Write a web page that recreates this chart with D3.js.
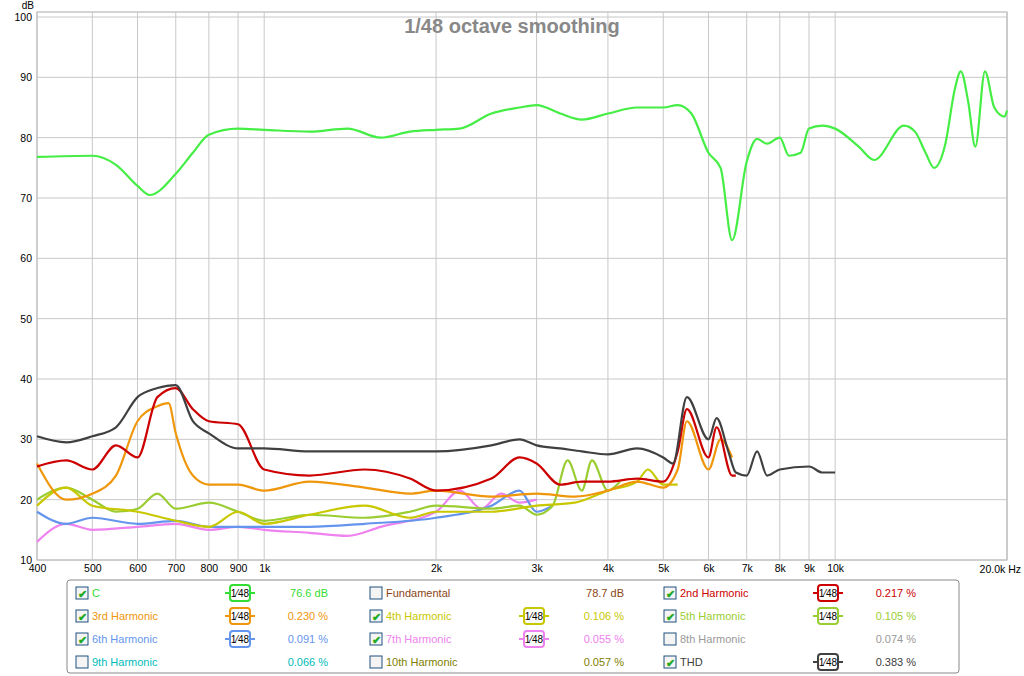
<!DOCTYPE html><html><head><meta charset="utf-8"><script src="https://cdn.jsdelivr.net/npm/d3@7"></script>
<style>body{margin:0;background:#fff}svg{font-family:"Liberation Sans",Arial,sans-serif}</style></head><body><svg id="c" width="1024" height="676"></svg>
<script>
const title="1/48 octave smoothing";
const xTicks=[400,500,600,700,800,900,1000,2000,3000,4000,5000,6000,7000,8000,9000,10000];
const xTickLabels=["400","500","600","700","800","900","1k","2k","3k","4k","5k","6k","7k","8k","9k","10k"];
const yTicks=[10,20,30,40,50,60,70,80,90,100];
const C=[[400,76.8],[500,77],[550,75.5],[600,72],[630,70.5],[700,74],[750,77.5],[800,80.5],[900,81.5],[1000,81.3],[1200,81],[1400,81.5],[1600,80],[1800,81],[2000,81.3],[2200,81.5],[2500,84],[2800,85],[3000,85.4],[3300,84],[3600,83],[4000,84],[4500,85],[5000,85],[5300,85.4],[5600,84],[6000,77.5],[6300,75],[6600,63],[7000,76],[7300,79.8],[7600,79],[8000,80],[8300,77],[8700,77.5],[9000,81.5],[9500,82],[10000,81.5],[11000,78.5],[11700,76.3],[13200,82],[13800,81],[14400,77.5],[14900,75],[15600,79],[16200,88],[16600,91],[17100,86],[17600,78.5],[18300,91],[19000,85],[19800,83.5],[20000,84.5]];
const H2=[[400,25.5],[450,26.5],[500,25],[550,29],[600,27],[650,37],[700,38.5],[750,35],[800,33],[900,32.5],[1000,25],[1200,24],[1500,25],[1800,23.5],[2000,21.5],[2500,23.5],[2800,27],[3000,26],[3300,22.5],[3600,23],[4000,23],[4500,23.5],[5000,23],[5300,28],[5500,35],[6000,27],[6200,32],[6600,24],[6700,24]];
const H3=[[400,26],[450,20],[500,21],[550,24],[600,33],[650,35.5],[680,36],[700,31],[750,24],[800,22.5],[900,22.5],[1000,21.5],[1200,23],[1500,22],[1800,21],[2000,21.5],[2500,20.5],[3000,21],[3500,20.5],[4000,21.5],[4500,23],[5000,22],[5300,25],[5500,33],[6000,25],[6300,30],[6600,27]];
const H4=[[400,19],[450,22],[500,19],[600,18],[700,16.5],[800,15.5],[900,18],[1000,16],[1200,17.5],[1500,19],[1800,17],[2000,18],[2500,18],[3000,19],[3500,19.5],[4000,21.5],[4500,23],[4700,25],[5000,22.5],[5300,22.5]];
const H5=[[400,20],[450,22],[500,20],[550,18],[600,18.5],[650,21],[700,18.5],[800,19.5],[900,18],[1000,16.5],[1200,17.5],[1500,17],[1800,18],[2000,19],[2500,18.5],[2800,19],[3000,17.5],[3200,19],[3400,26.5],[3600,21.5],[3750,26.5],[4000,21.5],[4200,23]];
const H6=[[400,18],[450,16],[500,17],[600,16],[700,16.5],[800,15.5],[1000,15.5],[1200,15.5],[1500,16],[2000,17],[2500,19],[2800,21.5],[3000,18],[3200,19]];
const H7=[[400,13],[450,16],[500,15],[600,15.5],[700,16],[800,15],[900,15.5],[1000,15],[1200,14.5],[1400,14],[1600,15.5],[2000,18],[2200,21.5],[2400,18.5],[2600,21],[2800,19.5],[3000,20]];
const THD=[[400,30.5],[450,29.5],[500,30.5],[550,32],[600,37],[650,38.5],[700,39],[750,33],[800,31],[900,28.5],[1000,28.5],[1200,28],[1500,28],[2000,28],[2500,29],[2800,30],[3000,29],[3300,28.5],[3600,28],[4000,27.5],[4500,28.5],[5000,27],[5200,26],[5500,37],[6000,30],[6200,33.5],[6500,28],[6700,24.5],[7000,24],[7300,28],[7600,24],[8000,25],[9000,25.5],[9500,24.5],[10000,24.5]];
const series=[[H7,"#ee82ee"],[H6,"#6495ed"],[H5,"#9acd32"],[H4,"#c8c800"],[H3,"#f0960a"],[H2,"#cc0000"],[THD,"#404040"],[C,"#44ee44"]];
const legend=[["C","#33dd33",true,true,"76.6 dB"],["Fundamental","#8b4513",false,false,"78.7 dB"],["2nd Harmonic","#cc0000",true,true,"0.217 %"],
["3rd Harmonic","#f0960a",true,true,"0.230 %"],["4th Harmonic","#c8c800",true,true,"0.106 %"],["5th Harmonic","#9acd32",true,true,"0.105 %"],
["6th Harmonic","#6495ed",true,true,"0.091 %"],["7th Harmonic","#ee82ee",true,true,"0.055 %"],["8th Harmonic","#999999",false,false,"0.074 %"],
["9th Harmonic","#00bbbb",false,false,"0.066 %"],["10th Harmonic","#808000",false,false,"0.057 %"],["THD","#404040",true,true,"0.383 %"]];
const svg=d3.select("#c");
const L=37,R=1007,T=12,B=560;
const x=d3.scaleLog().domain([400,20000]).range([L,R]);
const y=d3.scaleLinear().domain([10,100]).range([B,17]);
svg.append("rect").attr("x",L).attr("y",T).attr("width",R-L).attr("height",B-T).attr("fill","#fff").attr("stroke","#aaa");
const minor=[];for(let d=100;d<=10000;d*=10)for(let k=1;k<10;k++){const f=k*d;if(f>=400&&f<=20000)minor.push(f);}minor.push(20000);
svg.append("g").selectAll("line").data(minor).join("line").attr("x1",d=>x(d)).attr("x2",d=>x(d)).attr("y1",T).attr("y2",B).attr("stroke","#c8c8c8");
svg.append("g").selectAll("line").data(yTicks).join("line").attr("x1",L).attr("x2",R).attr("y1",d=>y(d)).attr("y2",d=>y(d)).attr("stroke","#c8c8c8");
const xa=svg.append("g").attr("transform",`translate(0,${B})`).call(d3.axisBottom(x).tickValues(xTicks).tickFormat((d,i)=>xTickLabels[i]).tickSize(0).tickPadding(5));
xa.select(".domain").remove();xa.selectAll("text").attr("font-size",10.5).attr("fill","#000");
svg.append("text").attr("x",1021).attr("y",B+13).attr("text-anchor","end").attr("font-size",10.5).text("20.0k Hz");
const ya=svg.append("g").attr("transform",`translate(${L},0)`).call(d3.axisLeft(y).tickValues(yTicks).tickSize(0).tickPadding(5));
ya.select(".domain").remove();ya.selectAll("text").attr("font-size",10.5).attr("fill","#000");
svg.append("text").attr("x",L-3).attr("y",9).attr("text-anchor","end").attr("font-size",10).text("dB");
svg.append("text").attr("x",512).attr("y",33).attr("text-anchor","middle").attr("font-size",20).attr("font-weight","bold").attr("fill","#888").text(title);
const line=d3.line().x(d=>x(d[0])).y(d=>y(d[1])).curve(d3.curveMonotoneX);
const g=svg.append("g");
series.forEach(([d,c])=>g.append("path").attr("d",line(d)).attr("fill","none").attr("stroke",c).attr("stroke-width",2.2));
svg.append("rect").attr("x",67).attr("y",580).attr("width",892).attr("height",93).attr("rx",3).attr("fill","#fff").attr("stroke","#888");
const cols=[76,370,664],rows=[593,616,639,662];
legend.forEach((e,i)=>{const cx=cols[i%3],cy=rows[Math.floor(i/3)];const gg=svg.append("g");
gg.append("rect").attr("x",cx).attr("y",cy-6).attr("width",12).attr("height",12).attr("fill","#f4f4f4").attr("stroke","#1f4f7f");
if(e[2])gg.append("text").attr("x",cx+2).attr("y",cy+5).attr("font-size",11).attr("fill","#22aa22").attr("font-weight","bold").text("✔");
gg.append("text").attr("x",cx+16).attr("y",cy+4).attr("font-size",11).attr("fill",e[1]).text(e[0]);
if(e[3]){const bx=cx+154;
gg.append("line").attr("x1",bx-5).attr("x2",bx+25).attr("y1",cy).attr("y2",cy).attr("stroke",e[1]).attr("stroke-width",2);
gg.append("rect").attr("x",bx).attr("y",cy-8).attr("width",20).attr("height",16).attr("rx",3).attr("fill","#fff").attr("stroke",e[1]).attr("stroke-width",2);
gg.append("text").attr("x",bx+10).attr("y",cy+4).attr("text-anchor","middle").attr("font-size",10).text("1⁄48");}
gg.append("text").attr("x",cx+(i%3==1?254:252)).attr("y",cy+4).attr("text-anchor","end").attr("font-size",11).attr("fill",e[1]).text(e[4]);
});
</script></body></html>
